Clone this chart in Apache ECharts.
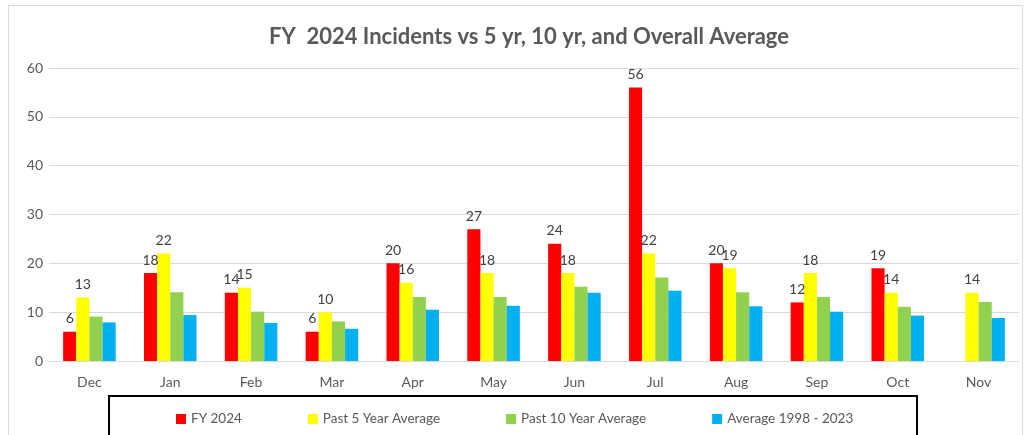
<!DOCTYPE html>
<html>
<head>
<meta charset="utf-8">
<script src="https://cdn.jsdelivr.net/npm/echarts@6/dist/echarts.min.js"></script>
<style>
  html, body { margin: 0; padding: 0; background: #fff; }
  #chart { width: 1028px; height: 435px; }
</style>
</head>
<body>
<div id="chart"></div>
<script>
var months = ['Dec', 'Jan', 'Feb', 'Mar', 'Apr', 'May', 'Jun', 'Jul', 'Aug', 'Sep', 'Oct', 'Nov'];
var fy2024 = [6, 18, 14, 6, 20, 27, 24, 56, 20, 12, 19, null];
var past5 = [13, 22, 15, 10, 16, 18, 18, 22, 19, 18, 14, 14];
var past10 = [9.1, 14.1, 10.1, 8.1, 13.1, 13.1, 15.2, 17.1, 14.1, 13.1, 11.1, 12.1];
var overall = [7.9, 9.4, 7.8, 6.6, 10.5, 11.3, 14.0, 14.4, 11.2, 10.1, 9.3, 8.8];

var font = 'Lato';
var labelStyle = { show: true, position: 'top', color: '#404040', fontSize: 14, fontFamily: font, distance: 6 };

var chart = echarts.init(document.getElementById('chart'));
chart.setOption({
  animation: false,
  textStyle: { fontFamily: font },
  title: {
    text: 'FY  2024 Incidents vs 5 yr, 10 yr, and Overall Average',
    left: 264,
    top: 21,
    textStyle: { color: '#595959', fontSize: 22, fontWeight: 'bold', fontFamily: font }
  },
  graphic: [
    { type: 'rect', shape: { x: 8.5, y: 5.5, width: 1014, height: 440 }, style: { fill: 'none', stroke: '#d9d9d9', lineWidth: 1 }, silent: true },
    { type: 'rect', shape: { x: 109, y: 396, width: 808, height: 60 }, style: { fill: 'none', stroke: '#000', lineWidth: 2 }, silent: true }
  ],
  legend: {
    left: 171,
    top: 407,
    itemWidth: 10,
    itemHeight: 10,
    itemGap: 66,
    icon: 'rect',
    textStyle: { color: '#595959', fontSize: 13.5, fontFamily: font },
    data: ['FY 2024', 'Past 5 Year Average', 'Past 10 Year Average', 'Average 1998 - 2023']
  },
  grid: { left: 49, right: 9, top: 68, bottom: 74 },
  xAxis: {
    type: 'category',
    data: months,
    axisLine: { lineStyle: { color: '#d9d9d9' } },
    axisTick: { show: false },
    axisLabel: { color: '#595959', fontSize: 14, margin: 14, fontFamily: font }
  },
  yAxis: {
    type: 'value',
    min: 0,
    max: 60,
    interval: 10,
    axisLine: { show: false },
    axisTick: { show: false },
    splitLine: { lineStyle: { color: '#d9d9d9' } },
    axisLabel: { color: '#595959', fontSize: 14, margin: 6, fontFamily: font }
  },
  series: [
    { name: 'FY 2024', type: 'bar', data: fy2024, itemStyle: { color: '#ff0000' }, barGap: '0%', barCategoryGap: '35%', label: labelStyle },
    { name: 'Past 5 Year Average', type: 'bar', data: past5, itemStyle: { color: '#ffff00' }, label: labelStyle },
    { name: 'Past 10 Year Average', type: 'bar', data: past10, itemStyle: { color: '#92d050' } },
    { name: 'Average 1998 - 2023', type: 'bar', data: overall, itemStyle: { color: '#00b0f0' } }
  ]
});
</script>
</body>
</html>
